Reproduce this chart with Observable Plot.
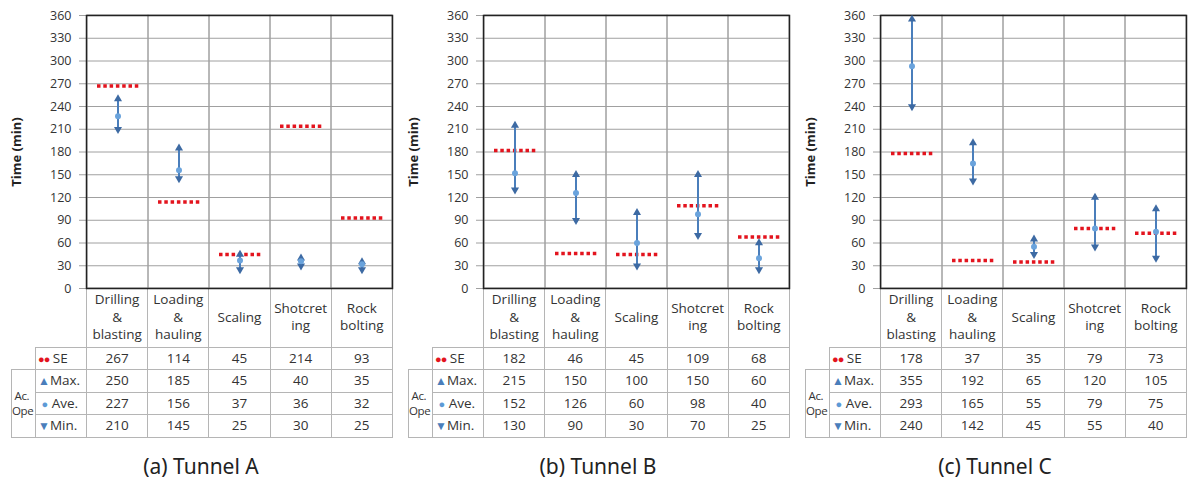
<!DOCTYPE html>
<html><head><meta charset="utf-8">
<script src="https://cdn.jsdelivr.net/npm/d3@7"></script>
<script src="https://cdn.jsdelivr.net/npm/@observablehq/plot@0.6"></script>
<style>
body{margin:0;background:#fff;font-family:"Open Sans","Noto Sans",sans-serif;}
#root{position:relative;width:1190px;height:481px;overflow:hidden;background:#fff}
.panel{position:absolute;top:0;width:396px;height:481px}
.panel svg{position:absolute;left:0;top:0}
table{position:absolute;left:11px;top:288px;width:381px;border-collapse:collapse;table-layout:fixed;font-size:13.5px;color:#333}
td{border:1px solid #b5b5b5;text-align:center;padding:0;line-height:17.5px;white-space:nowrap;overflow:hidden}
td.blank{border:none}
td.hd{border-top:none}
td.lab{text-align:left;padding-left:2px}
td.ac{font-size:11.5px;line-height:15px;text-align:left;padding-left:0;letter-spacing:-0.4px;overflow:visible}
tr.r{height:22.5px}
.cap{position:absolute;top:452px;left:0;width:402px;text-align:center;font-size:21px;color:#222;font-family:"Noto Sans","Open Sans",sans-serif}
</style></head>
<body><div id="root"></div>
<script>
const categories = ["Drilling & blasting","Loading & hauling","Scaling","Shotcreting","Rock bolting"];
const headerLabels = [["Drilling","&","blasting"],["Loading","&","hauling"],["Scaling"],["Shotcret","ing"],["Rock","bolting"]];
const yTicks = [0,30,60,90,120,150,180,210,240,270,300,330,360];
const captions = ["(a) Tunnel A","(b) Tunnel B","(c) Tunnel C"];
const yTitle = "Time (min)";

// Tunnel A
const seA  = [267,114,45,214,93];
const maxA = [250,185,45,40,35];
const aveA = [227,156,37,36,32];
const minA = [210,145,25,30,25];
// Tunnel B
const seB  = [182,46,45,109,68];
const maxB = [215,150,100,150,60];
const aveB = [152,126,60,98,40];
const minB = [130,90,30,70,25];
// Tunnel C
const seC  = [178,37,35,79,73];
const maxC = [355,192,65,120,105];
const aveC = [293,165,55,79,75];
const minC = [240,142,45,55,40];

const tunnels = [[seA,maxA,aveA,minA],[seB,maxB,aveB,minB],[seC,maxC,aveC,minC]];
const offsets = [0,397,794];

const root = document.getElementById("root");

tunnels.forEach(([se,mx,av,mn],i)=>{
  const rows = categories.map((c,j)=>({c, se:se[j], max:mx[j], ave:av[j], min:mn[j]}));
  const div = document.createElement("div");
  div.className = "panel";
  div.style.left = offsets[i]+"px";
  root.appendChild(div);

  // table
  let html = `<table><colgroup><col style="width:24px"><col style="width:51px">` +
    categories.map(()=>`<col style="width:61.2px">`).join("") + `</colgroup>`;
  html += `<tr style="height:59px"><td colspan="2" class="blank"></td>` +
    headerLabels.map(l=>`<td class="hd">${l.join("<br>")}</td>`).join("") + `</tr>`;
  html += `<tr class="r"><td class="blank"></td><td class="lab"><span style="color:#e3141e;font-size:11px;letter-spacing:-1px">●●</span> SE</td>` +
    se.map(v=>`<td>${v}</td>`).join("") + `</tr>`;
  html += `<tr class="r"><td class="ac" rowspan="3">&nbsp;Ac.<br>Ope</td><td class="lab"><span style="color:#4a7ebb;font-size:12px">▲</span>Max.</td>` +
    mx.map(v=>`<td>${v}</td>`).join("") + `</tr>`;
  html += `<tr class="r"><td class="lab">&nbsp;<span style="color:#5d9ad6;font-size:11px">●</span> Ave.</td>` +
    av.map(v=>`<td>${v}</td>`).join("") + `</tr>`;
  html += `<tr class="r"><td class="lab"><span style="color:#4a7ebb;font-size:12px">▼</span>Min.</td>` +
    mn.map(v=>`<td>${v}</td>`).join("") + `</tr>`;
  html += `</table>`;
  div.insertAdjacentHTML("beforeend", html);

  const svg = Plot.plot({
    width: 396, height: 291,
    marginLeft: 86, marginRight: 4, marginTop: 15, marginBottom: 3,
    style: {fontFamily: "'Open Sans', sans-serif", fontSize: "12.5px", color: "#333", background: "transparent", overflow: "visible"},
    x: {type: "band", domain: categories, padding: 0, axis: null},
    y: {domain: [0,360], axis: null},
    marks: [
      Plot.gridY(yTicks, {stroke: "#a0a0a0", strokeOpacity: 1}),
      Plot.cell(categories, {x: d=>d, fill: "none", stroke: "#a0a0a0"}),
      Plot.axisY(yTicks, {tickSize: 7, tickPadding: 8, stroke: "#a0a0a0", fill: "#333", fontSize: 12.5, label: null}),
      Plot.frame({stroke: "#222", strokeWidth: 1.5}),
      Plot.tickY(rows, {x: "c", y: "se", stroke: "#e3141e", strokeWidth: 3.5, strokeDasharray: "3.5,2.8", insetLeft: 10, insetRight: 9}),
      Plot.ruleX(rows, {x: "c", y1: "min", y2: "max", stroke: "#4a7ebb", strokeWidth: 2}),
      Plot.dot(rows, {x: "c", y: "max", symbol: "triangle", r: 3, fill: "#3d6aa3"}),
      Plot.dot(rows, {x: "c", y: "min", symbol: "triangle", rotate: 180, r: 3, fill: "#3d6aa3"}),
      Plot.dot(rows, {x: "c", y: "ave", r: 3, fill: "#6aa3dc"}),
      Plot.text([yTitle], {frameAnchor: "left", dx: -70, rotate: -90, textAnchor: "middle", fontWeight: "bold", fontSize: 13, fill: "#222"})
    ]
  });
  div.appendChild(svg);

  const cap = document.createElement("div");
  cap.className = "cap";
  cap.textContent = captions[i];
  div.appendChild(cap);
});
</script>
</body></html>
